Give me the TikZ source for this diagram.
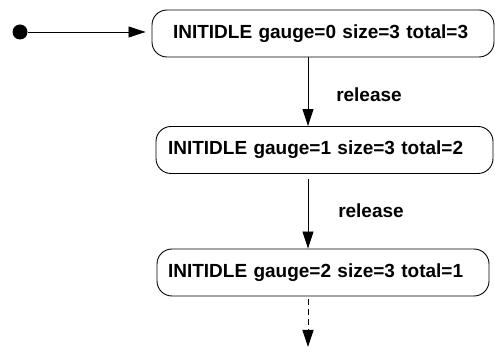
\documentclass[tikz,border=0pt]{standalone}
\usepackage{fontspec}
\setmainfont{Liberation Sans}
\usetikzlibrary{arrows.meta}
\begin{document}
\begin{tikzpicture}[x=1pt,y=-1pt,
  statebox/.style={draw, line width=0.9pt, rounded corners=15pt, rectangle, align=left,
     font=\bfseries\fontsize{19}{22}\selectfont, minimum height=47pt, inner ysep=0pt},
  trans/.style={line width=0.8pt, -{Triangle[length=17pt,width=11pt]}},
  lbl/.style={font=\bfseries\fontsize{19}{22}\selectfont, inner sep=0pt}]
\useasboundingbox (0,0) rectangle (495,352);
\node[statebox, inner xsep=21pt, text width=300pt] (s0) at (323,33.5) {INITIDLE gauge=0 size=3 total=3};
\node[statebox, inner xsep=12pt, text width=313pt] (s1) at (324.5,150) {INITIDLE gauge=1 size=3 total=2};
\node[statebox, inner xsep=11pt, text width=310pt] (s2) at (323,272.5) {INITIDLE gauge=2 size=3 total=1};
\node[circle, fill, minimum size=15pt, inner sep=0pt] (init) at (20,32) {};
\coordinate (ax) at (308,0);
\coordinate (end) at (308,347);
\draw[trans, shorten >=6pt] (init.east) -- (init.east -| s0.west);
\draw[trans] (s0.south -| ax) -- (s1.north -| ax);
\draw[trans, shorten <=5pt] (s1.south -| ax) -- (s2.north -| ax);
\draw[trans, dashed, dash pattern=on 6pt off 4pt, shorten <=3pt] (s2.south -| ax) -- (end);
\node[lbl] (l1) at (369,95) {release};
\node[lbl] (l2) at (371,211) {release};
\end{tikzpicture}
\end{document}
